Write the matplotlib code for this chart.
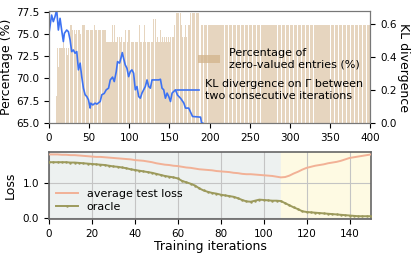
import numpy as np
import matplotlib
matplotlib.use('Agg')
import matplotlib.pyplot as plt
from matplotlib.patches import Patch
from matplotlib.lines import Line2D
from matplotlib.ticker import FormatStrFormatter

# ---- top panel: percentage of zero-valued entries (bars, per iteration)
zero_pct = [68.0, 73.4, 73.4, 71.3, 73.4, 73.4, 73.4, 73.4, 73.4, 74.1,
            73.4, 73.4, 73.4, 73.4, 72.6, 73.4, 76.0, 76.0, 76.0, 76.0,
            75.4, 75.0, 75.4, 75.4, 75.0, 75.4, 75.4, 75.0, 75.4, 75.4,
            75.0, 75.4, 76.0, 76.0, 76.0, 76.0, 75.4, 75.4, 75.4, 75.4,
            75.4, 75.4, 75.4, 75.4, 75.4, 75.4, 75.4, 75.4, 76.0, 75.4,
            75.4, 75.4, 76.0, 75.4, 75.4, 75.4, 76.0, 75.4, 75.4, 75.4,
            75.4, 75.4, 75.4, 74.1, 74.1, 74.1, 74.1, 74.1, 74.1, 74.1,
            76.0, 74.1, 74.1, 76.0, 74.1, 74.1, 74.7, 74.1, 74.7, 74.7,
            74.1, 74.7, 74.1, 74.7, 74.1, 74.1, 75.4, 74.1, 75.4, 74.1,
            75.4, 75.4, 75.4, 75.4, 74.1, 74.1, 74.1, 74.1, 74.1, 74.1,
            74.1, 74.1, 74.1, 74.1, 76.0, 74.1, 74.1, 74.1, 74.1, 74.1,
            76.0, 74.1, 74.1, 74.1, 74.1, 74.1, 74.1, 74.1, 74.1, 74.1,
            74.1, 76.7, 76.7, 76.7, 76.7, 74.1, 74.7, 74.1, 74.7, 74.1,
            75.4, 74.1, 74.7, 74.1, 74.1, 74.7, 74.1, 74.7, 75.4, 74.1,
            74.7, 74.1, 74.7, 74.7, 76.0, 74.7, 74.7, 76.0, 74.7, 74.7,
            77.3, 77.3, 77.3, 77.3, 77.3, 77.3, 76.0, 74.7, 76.0, 76.0,
            74.7, 76.0, 74.7, 76.0, 76.0, 76.0, 76.0, 77.3, 77.3, 77.3,
            77.3, 77.3, 77.3, 77.3, 77.3, 77.3, 77.3, 77.3, 76.0]
bar_start = 9
plateau_start = 190
plateau_end = 400
plateau_pct = 76.0

# KL divergence between consecutive iterations (line, right axis)
kl_x = [0, 3.3, 5.4, 7.5, 9.6, 11.7, 13.8, 15.8, 17.9, 19.2, 22.1, 24.2, 26.3,
        28.3, 30.4, 32.5, 34.6, 36.7, 38.8, 40.8, 42.9, 45.0, 47.1, 49.2, 51.3,
        52.1, 54.6, 57.5, 59.6, 63.8, 65.8, 68.8, 71.3, 74.2, 76.3, 79.2, 81.3,
        83.8, 85.4, 87.9, 89.6, 91.3, 92.9, 95.0, 97.1, 99.2, 101.3, 103.3,
        105.4, 107.5, 109.6, 111.7, 113.8, 115.8, 117.9, 120.0, 122.1, 124.2,
        126.3, 128.3, 132.5, 136.7, 138.8, 140.8, 142.9, 145.0, 147.1, 149.2,
        151.3, 153.3, 155.4, 157.5, 160.0, 164.0, 168.0, 170.0, 174.0, 178.8,
        188.8, 190.0, 191.5]
kl_val = [0.545, 0.656, 0.616, 0.646, 0.687, 0.565, 0.636, 0.565, 0.495, 0.545,
          0.565, 0.555, 0.505, 0.434, 0.444, 0.424, 0.434, 0.323, 0.364, 0.282,
          0.212, 0.172, 0.161, 0.141, 0.091, 0.121, 0.110, 0.121, 0.115, 0.131,
          0.172, 0.180, 0.202, 0.212, 0.262, 0.279, 0.252, 0.313, 0.373, 0.364,
          0.394, 0.428, 0.394, 0.353, 0.333, 0.282, 0.313, 0.323, 0.303, 0.202,
          0.222, 0.161, 0.151, 0.182, 0.202, 0.222, 0.262, 0.222, 0.212, 0.262,
          0.262, 0.262, 0.266, 0.212, 0.202, 0.151, 0.182, 0.161, 0.131, 0.182,
          0.192, 0.202, 0.170, 0.150, 0.121, 0.091, 0.091, 0.040, 0.036, 0.0,
          0.0]

# ---- bottom panel: losses over training iterations (every 2 iterations)
loss_iter = list(range(0, 151, 2))
test_loss = [1.80, 1.80, 1.80, 1.79, 1.79, 1.78, 1.78, 1.77, 1.76, 1.75,
             1.74, 1.73, 1.73, 1.72, 1.71, 1.70, 1.69, 1.68, 1.67, 1.66,
             1.64, 1.63, 1.62, 1.60, 1.58, 1.55, 1.53, 1.51, 1.50, 1.48,
             1.47, 1.45, 1.43, 1.42, 1.40, 1.38, 1.37, 1.36, 1.35, 1.33,
             1.32, 1.31, 1.30, 1.28, 1.27, 1.25, 1.24, 1.24, 1.23, 1.22,
             1.21, 1.20, 1.19, 1.17, 1.15, 1.16, 1.20, 1.26, 1.31, 1.37,
             1.42, 1.45, 1.48, 1.50, 1.52, 1.55, 1.57, 1.59, 1.62, 1.66,
             1.70, 1.72, 1.74, 1.76, 1.78, 1.80]
oracle = [1.58, 1.58, 1.58, 1.58, 1.58, 1.57, 1.57, 1.56, 1.55, 1.54,
          1.53, 1.52, 1.51, 1.50, 1.48, 1.46, 1.45, 1.43, 1.41, 1.38,
          1.36, 1.34, 1.32, 1.30, 1.28, 1.25, 1.22, 1.19, 1.17, 1.15,
          1.12, 1.05, 1.01, 0.97, 0.92, 0.84, 0.78, 0.74, 0.71, 0.69,
          0.66, 0.64, 0.62, 0.60, 0.56, 0.51, 0.47, 0.46, 0.49, 0.52,
          0.51, 0.50, 0.49, 0.49, 0.48, 0.42, 0.36, 0.30, 0.25, 0.19,
          0.17, 0.16, 0.15, 0.14, 0.13, 0.12, 0.11, 0.10, 0.09, 0.08,
          0.07, 0.06, 0.05, 0.05, 0.05, 0.05]
phase_switch = 108

plt.rcParams['font.family'] = 'DejaVu Sans'
plt.rcParams['xtick.labelsize'] = 7.5
plt.rcParams['ytick.labelsize'] = 7.5

fig = plt.figure(figsize=(4.15, 2.58), dpi=100)
ax = fig.add_axes([0.118, 0.523, 0.774, 0.434])
ax2 = ax.twinx()
bx = fig.add_axes([0.118, 0.151, 0.776, 0.26])

bar_color = '#d2b48c'
bar_alpha = 0.55
bar_x = np.arange(bar_start, bar_start + len(zero_pct))
ax.bar(bar_x, zero_pct, width=0.8, color=bar_color, alpha=bar_alpha, linewidth=0)
px = np.arange(plateau_start, plateau_end + 1)
ax.bar(px, [plateau_pct] * len(px), width=0.8, color=bar_color, alpha=bar_alpha, linewidth=0)
ax.set_xlim(0, 400)
ax.set_ylim(65, 77.55)
ax.set_yticks([65.0, 67.5, 70.0, 72.5, 75.0, 77.5])
ax.set_xticks(range(0, 401, 50))
ax.set_ylabel('Percentage (%)', fontsize=9, labelpad=2)

ax2.plot(kl_x, kl_val, color='#3d72f2', lw=1.2)
ax2.set_ylim(0, 0.68)
ax2.set_yticks([0.0, 0.2, 0.4, 0.6])
ax2.set_ylabel('KL divergence', fontsize=9, rotation=270, labelpad=10)

for a in (ax, ax2):
    for s in a.spines.values():
        s.set_color('#777777')

leg1 = ax.legend([Patch(facecolor=bar_color, alpha=0.75)],
                 ['Percentage of\nzero-valued entries (%)'],
                 loc='upper left', bbox_to_anchor=(0.45, 0.71), frameon=False,
                 fontsize=8, handlelength=2.0, borderaxespad=0)
leg2 = ax2.legend([Line2D([], [], color='#3d72f2', lw=1.2)],
                  ['KL divergence on Γ between\ntwo consecutive iterations'],
                  loc='upper left', bbox_to_anchor=(0.385, 0.43), frameon=False,
                  fontsize=8, handlelength=2.0, handletextpad=0.5, borderaxespad=0)

# bottom
bx.axvspan(0, phase_switch, color='#edf1f0', zorder=0)
bx.axvspan(phase_switch, 150, color='#fefae3', zorder=0)
bx.grid(True, color='#c4c4c4', lw=0.8, zorder=1)
bx.plot(loss_iter, test_loss, color='#f2b196', lw=1.4, zorder=3, label='average test loss')
bx.plot(loss_iter, oracle, color='#9c9a5c', lw=1.4, marker='.', ms=1.5, zorder=3, label='oracle')
bx.set_xlim(0, 150)
bx.set_ylim(-0.03, 1.87)
bx.set_yticks([0.0, 1.0])
bx.yaxis.set_major_formatter(FormatStrFormatter('%.1f'))
bx.set_xticks(range(0, 141, 20))
bx.set_axisbelow(True)
bx.set_ylabel('Loss', fontsize=9, labelpad=4)
bx.set_xlabel('Training iterations', fontsize=9, labelpad=1)
bx.legend(loc='lower left', frameon=False, fontsize=8, borderaxespad=0.2,
          handlelength=2.0, labelspacing=0.3)
for s in bx.spines.values():
    s.set_color('#666666')
    s.set_linewidth(1.2)

fig.savefig('out.png', dpi=100)
